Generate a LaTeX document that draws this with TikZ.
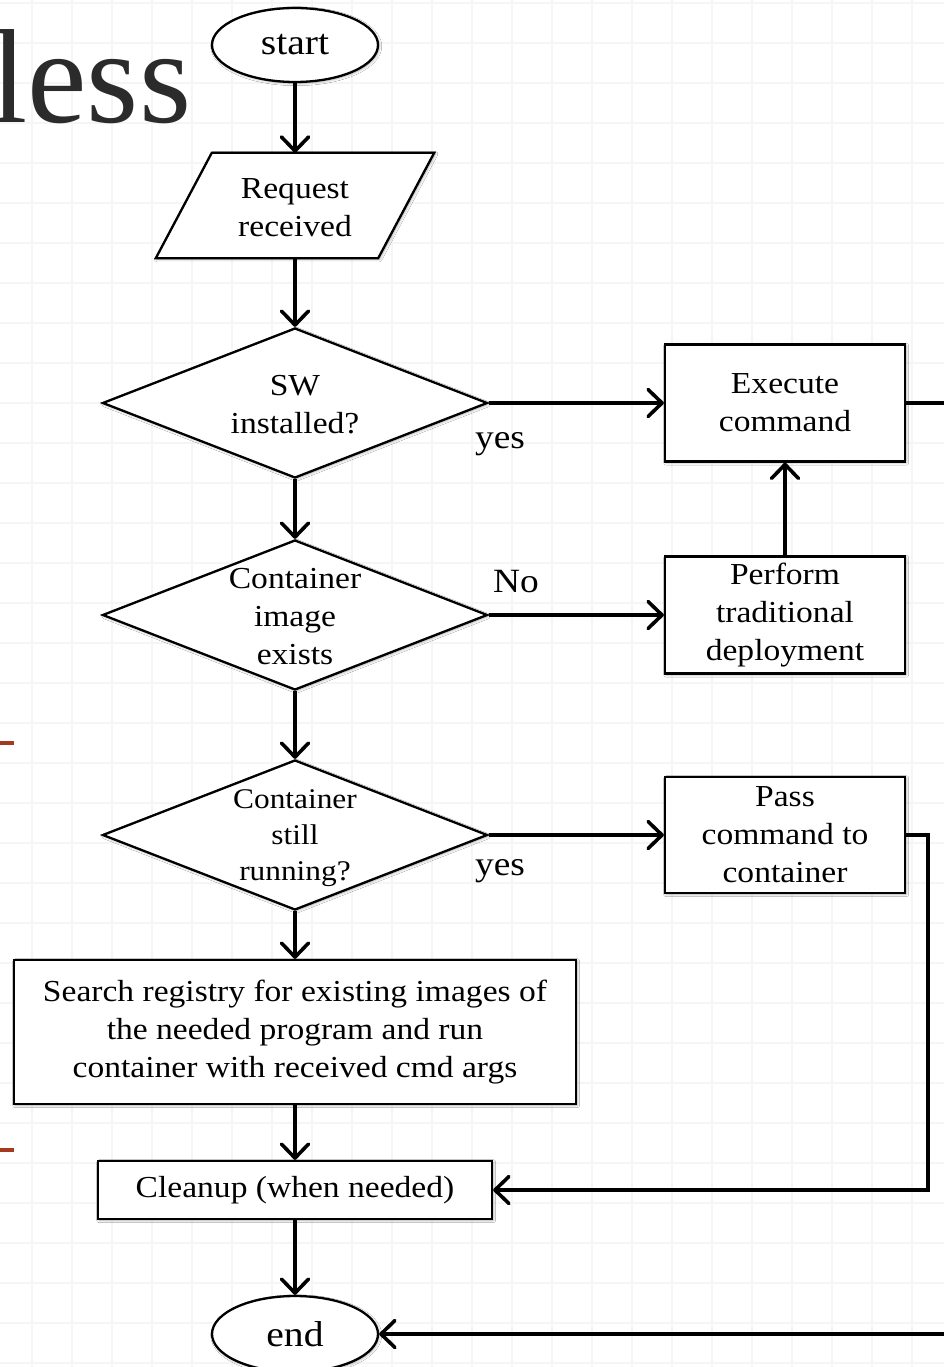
\documentclass[tikz,border=0pt]{standalone}
\usepackage{fontspec}
\setmainfont{Liberation Serif}[FakeStretch=1.1]
\newfontfamily\titlefont{Liberation Serif}
\usetikzlibrary{arrows.meta,shapes.geometric,calc,shadows.blur}

\definecolor{gridline}{HTML}{F5F5F5}
\definecolor{rust}{HTML}{A53A1E}
\definecolor{titleink}{HTML}{2B2B2B}

\newcommand\mainsize{\fontsize{30.5}{38}\selectfont}
\newcommand\smallsize{\fontsize{28.5}{36}\selectfont}
\newcommand\termsize{\fontsize{36}{40}\selectfont}
\newcommand\labelsize{\fontsize{34}{38}\selectfont}

\tikzset{
  softshadow/.style={blur shadow={shadow xshift=1.2pt,shadow yshift=-1.2pt,
      shadow blur radius=2.5pt,shadow opacity=35}},
  shapeline/.style={draw=black, line width=2.3pt, fill=white},
  procbox/.style={shapeline, softshadow, rectangle, inner sep=0pt,
      align=center, font=\mainsize},
  decision/.style={shapeline, softshadow, diamond, inner sep=0pt,
      minimum width=385pt, minimum height=150pt},
  dtext/.style={align=center, inner sep=0pt, font=\mainsize},
  terminal/.style={shapeline, softshadow, ellipse, inner sep=0pt,
      minimum width=166pt, minimum height=74pt, font=\termsize},
  flow/.style={line width=3.6pt, -{Straight Barb[round,length=14pt,width=27pt]}},
  edgelabel/.style={inner sep=0pt, font=\labelsize},
}

\begin{document}
\begin{tikzpicture}[x=1pt,y=-1pt]
  \useasboundingbox (0,0) rectangle (944,1367);
  \clip (0,0) rectangle (944,1367);
  \fill[white] (0,0) rectangle (944,1367);

  % background grid
  \foreach \gx in {32,72,...,912}
    \draw[gridline, line width=1.3pt] (\gx,0) -- (\gx,1367);
  \foreach \gy in {3,43,...,1363}
    \draw[gridline, line width=1.3pt] (0,\gy) -- (944,\gy);

  % slide title fragment and side marks
  \node[anchor=base west, inner sep=0pt, text=titleink,
        font=\titlefont\fontsize{134}{134}\selectfont] (title) at (-10,123) {less};
  \draw[rust, line width=4pt] (0,743) -- (14,743);
  \draw[rust, line width=4pt] (0,1150) -- (14,1150);

  % main column
  \node[terminal] (start) at (295,45) {start};

  \node[inner sep=0pt, minimum width=222pt, minimum height=105pt,
        align=center, font=\mainsize] (req) at (295,205.5) {};
  \draw[shapeline, softshadow]
    ($(req.north west)+(28,0)$) -- ($(req.north east)+(28,0)$) --
    ($(req.south east)+(-28,0)$) -- ($(req.south west)+(-28,0)$) -- cycle;
  \node[dtext] (reqtext) at ($(req.center)+(0,2)$) {Request\\received};

  \node[decision] (d1) at (295,403) {};
  \node[dtext] (d1text) at ($(d1.center)+(0,2)$) {SW\\installed?};

  \node[decision] (d2) at (295,615) {};
  \node[dtext] (d2text) at ($(d2.center)+(0,2)$) {Container\\image\\exists};

  \node[decision] (d3) at (295,835) {};
  \node[dtext, font=\smallsize] (d3text) at ($(d3.center)+(0,3)$) {Container\\still\\running?};

  \node[procbox, minimum width=562pt, minimum height=144pt] (search) at (295,1032)
    {Search registry for existing images of\\the needed program and run\\container with received cmd args};

  \node[procbox, minimum width=394pt, minimum height=58pt] (clean) at (295,1190)
    {Cleanup (when needed)};

  \node[terminal, minimum height=76pt] (end) at (295,1334) {end};

  % right column
  \node[procbox, minimum width=240pt, minimum height=117pt] (exe) at (785,403)
    {Execute\\command};
  \node[procbox, minimum width=240pt, minimum height=117pt] (perf) at (785,615)
    {Perform\\traditional\\deployment};
  \node[procbox, minimum width=240pt, minimum height=116pt] (pass) at (785,835)
    {Pass\\command to\\container};

  % branch labels
  \node[edgelabel] (yes1) at (500,444) {yes};
  \node[edgelabel] (no2) at (516,582) {No};
  \node[edgelabel] (yes3) at (500,871) {yes};

  % connectors
  \draw[flow] (start) -- (req);
  \draw[flow] (req) -- (d1);
  \draw[flow] (d1) -- (d2);
  \draw[flow] (d2) -- (d3);
  \draw[flow] (d3) -- (search);
  \draw[flow] (search) -- (clean);
  \draw[flow] (clean) -- (end);

  \draw[flow] (d1.east) -- (exe.west);
  \draw[flow] (d2.east) -- (perf.west);
  \draw[flow] (perf) -- (exe);
  \draw[flow] (d3.east) -- (pass.west);

  \coordinate (passrail) at (928,835);
  \draw[flow] (pass.east) -- (passrail) |- (clean.east);

  \coordinate (exerail) at (975,403);
  \draw[flow] (exe.east) -- (exerail) |- (end.east);
\end{tikzpicture}
\end{document}
